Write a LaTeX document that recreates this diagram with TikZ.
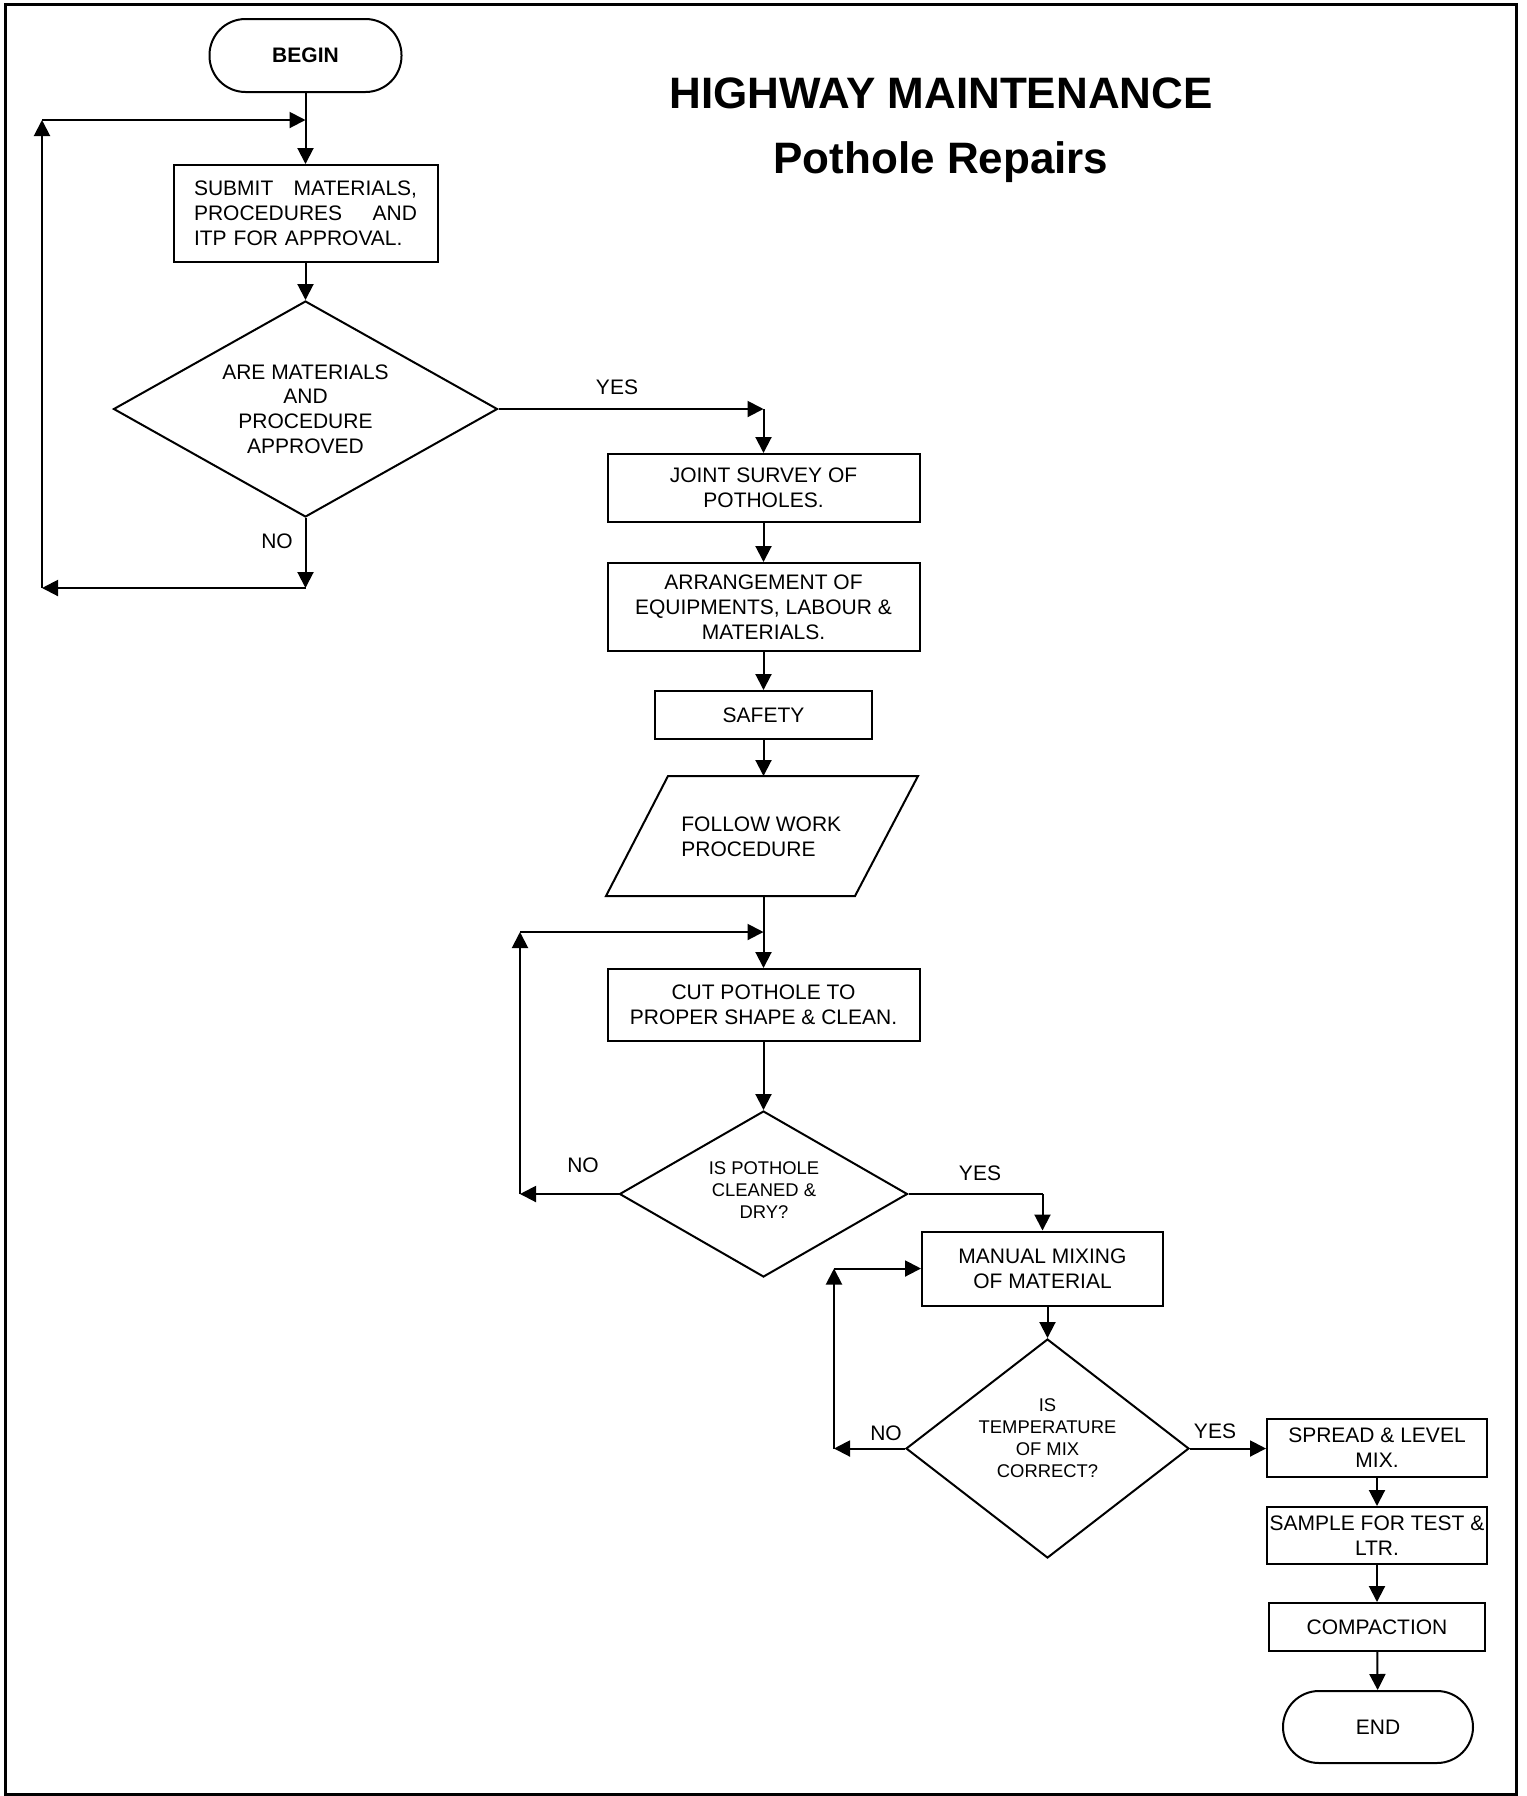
\documentclass[tikz,border=0pt]{standalone}
\usepackage{fontspec}
\setmainfont{Liberation Sans}
\usetikzlibrary{shapes.geometric,arrows.meta}
\tikzset{
  line/.style={line width=1pt},
  arr/.style={line width=1pt,-{Triangle[width=8pt,length=8pt]}},
  box/.style={draw,line width=1pt,rectangle,inner sep=0pt,align=center,font=\fontsize{10.5pt}{12.5pt}\selectfont},
  term/.style={box,rounded corners=18pt},
  dia/.style={draw,line width=1pt,diamond,inner sep=0pt},
  dtext/.style={align=center,inner sep=0pt,font=\fontsize{10.5pt}{12.4pt}\selectfont},
  stext/.style={align=center,inner sep=0pt,font=\fontsize{9.2pt}{10.9pt}\selectfont},
  lbl/.style={inner sep=0pt,font=\fontsize{10.5pt}{12.5pt}\selectfont},
}
\begin{document}
\begin{tikzpicture}[x=0.5pt,y=-0.5pt]
\useasboundingbox (0,0) rectangle (1527,1796);
\draw[line width=1.5pt] (5,4) rectangle (1516,1794);
% title
\node[anchor=base,inner sep=0pt,font=\bfseries\fontsize{22pt}{26pt}\selectfont] (t1) at (941,108) {HIGHWAY MAINTENANCE};
\node[anchor=base,inner sep=0pt,font=\bfseries\fontsize{22pt}{26pt}\selectfont] (t2) at (941,173) {Pothole Repairs};
% nodes
\node[term,minimum width=96pt,minimum height=36.5pt,font=\bfseries\fontsize{10.5pt}{12.5pt}\selectfont] (begin) at (305.5,55.5) {BEGIN};
\node[box,minimum width=132pt,minimum height=48.5pt,text width=111.5pt,align=left] (submit) at (305.5,213.5)
  {\makebox[111.5pt][s]{SUBMIT\hfill MATERIALS,}\\\makebox[111.5pt][s]{PROCEDURES\hfill AND}\\ITP FOR APPROVAL.};
\node[dia,minimum width=192pt,minimum height=108pt] (d1) at (305.5,409) {};
\node[dtext] (d1t) at (305.5,409) {ARE MATERIALS\\AND\\PROCEDURE\\APPROVED};
\node[box,minimum width=156pt,minimum height=34pt] (joint) at (763.5,488) {JOINT SURVEY OF\\POTHOLES.};
\node[box,minimum width=156pt,minimum height=44pt] (arrange) at (763.5,607) {ARRANGEMENT OF\\EQUIPMENTS, LABOUR \&\\MATERIALS.};
\node[box,minimum width=108.5pt,minimum height=24pt] (safety) at (763.5,715) {SAFETY};
% parallelogram
\coordinate (pa) at (668,776);
\coordinate (pb) at (918,776);
\coordinate (pc) at (855,896);
\coordinate (pd) at (606,896);
\draw[line width=1pt,line join=miter] (pa) -- (pb) -- (pc) -- (pd) -- cycle;
\coordinate (ftop) at (763.5,776);
\coordinate (fbot) at (763.5,896);
\node[anchor=west,align=left,inner sep=0pt,font=\fontsize{10.5pt}{12.3pt}\selectfont] (follow) at (681,837) {FOLLOW WORK\\PROCEDURE};
\node[box,minimum width=156pt,minimum height=36pt] (cut) at (763.5,1005) {CUT POTHOLE TO\\PROPER SHAPE \& CLEAN.};
\node[dia,minimum width=144pt,minimum height=83pt] (d2) at (763.5,1194) {};
\node[stext] (d2t) at (764,1190) {IS POTHOLE\\CLEANED \&\\DRY?};
\node[box,minimum width=120.5pt,minimum height=37pt] (manual) at (1042.5,1268.5) {MANUAL MIXING\\OF MATERIAL};
\node[dia,minimum width=141.5pt,minimum height=109.5pt] (d3) at (1047.5,1448.5) {};
\node[stext] (d3t) at (1047.5,1438) {IS\\TEMPERATURE\\OF MIX\\CORRECT?};
\node[box,minimum width=110pt,minimum height=29pt] (spread) at (1377,1448) {SPREAD \& LEVEL\\MIX.};
\node[box,minimum width=110pt,minimum height=28.5pt] (sample) at (1377,1535.5) {SAMPLE FOR TEST \&\\LTR.};
\node[box,minimum width=108pt,minimum height=24pt] (compact) at (1377,1627) {COMPACTION};
\node[term,minimum width=95pt,minimum height=36pt] (end) at (1378,1727) {END};
% labels
\node[lbl] (yes1) at (617,387) {YES};
\node[lbl] (no1) at (277,541) {NO};
\node[lbl] (no2) at (583,1165) {NO};
\node[lbl] (yes2) at (980,1173) {YES};
\node[lbl] (no3) at (886,1433) {NO};
\node[lbl] (yes3) at (1215,1431) {YES};
% connectors
\draw[arr] (begin) -- (submit);
\draw[arr] (submit) -- (d1);
\coordinate (y1) at (763.5,409);
\draw[arr] (d1.east) -- (y1);
\draw[arr] (y1) -- (joint.north);
\coordinate (n1) at (305.5,588);
\coordinate (n1l) at (42,588);
\coordinate (n1t) at (42,120);
\coordinate (n1r) at (305.5,120);
\draw[arr] (d1.south) -- (n1);
\draw[arr] (n1) -- (n1l);
\draw[arr] (n1l) -- (n1t);
\draw[arr] (n1t) -- (n1r);
\draw[arr] (joint) -- (arrange);
\draw[arr] (arrange) -- (safety);
\draw[arr] (safety.south) -- (ftop);
\draw[arr] (fbot) -- (cut.north);
\coordinate (n2) at (520,1194);
\coordinate (n2t) at (520,932);
\coordinate (n2r) at (763.5,932);
\draw[arr] (d2.west) -- (n2);
\draw[arr] (n2) -- (n2t);
\draw[arr] (n2t) -- (n2r);
\draw[arr] (cut) -- (d2);
\coordinate (y2) at (1042.5,1194);
\draw[line] (d2.east) -- (y2);
\draw[arr] (y2) -- (manual.north);
\draw[arr] (manual.south -| d3.north) -- (d3.north);
\coordinate (n3) at (834,1448.5);
\coordinate (n3t) at (834,1268.5);
\draw[arr] (d3.west) -- (n3);
\draw[arr] (n3) -- (n3t);
\draw[arr] (n3t) -- (manual.west);
\draw[arr] (d3.east) -- (spread.west |- d3.east);
\draw[arr] (spread) -- (sample);
\draw[arr] (sample) -- (compact);
\draw[arr] (compact) -- (end);
\end{tikzpicture}
\end{document}
